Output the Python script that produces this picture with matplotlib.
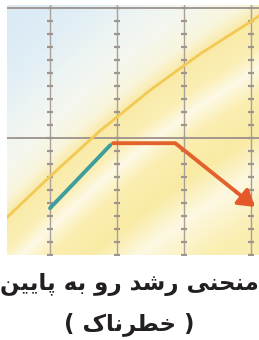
import numpy as np
import matplotlib.pyplot as plt
from matplotlib.colors import to_rgb

# curva de referencia (amarilla), línea de crecimiento previo (verde azulado) y caída (naranja)
ref_x = [0.36, 1.0, 1.75, 2.5, 3.25, 4.01, 4.15]
ref_y = [-6.1, -2.96, 0.57, 3.7, 6.5, 9.0, 9.5]
prev_x = [1.0, 1.9]
prev_y = [-5.4, -0.55]
baja_x = [1.94, 2.87, 4.06]
baja_y = [-0.4, -0.4, -5.3]
columnas = [1, 2, 3, 4]
filas = [0, 10]
marcas = list(range(-9, 11))

# texto en persa ya en formas de presentación y en orden visual (matplotlib no une letras árabes)
titulo1 = "\ufee6\ufef4\ufef3\ufe8e\ufb58 \ufeea\ufe91 \ufeed\ufead \ufeaa\ufeb7\ufead \ufef0\ufee8\ufea4\ufee8\ufee3"
titulo2 = "( \ufb8e\ufe8e\ufee7\ufeae\ufec4\ufea7 )"

x0, x1, y0, y1 = 0.358, 4.12, -9.0, 10.23

fig = plt.figure(figsize=(2.59, 3.40), dpi=100)
ax = fig.add_axes([7 / 259, 85 / 340, 252 / 259, 250 / 340])

# fondo: franjas diagonales paralelas a la curva
gx, gy = np.meshgrid(np.linspace(x0, x1, 300), np.linspace(y1, y0, 300))
d = gy - np.interp(gx, ref_x, ref_y)
paradas = [-16, -12, -9, -6, -4, -2.5, 0, 1.5, 4, 7, 10, 14]
tonos = ["#faeeb0", "#fdf8e2", "#f9eba4", "#fbeeb0", "#fdf9e6", "#fbefb6",
         "#f9eaa6", "#f9f5dc", "#f5f7ef", "#edf4f3", "#e2eff5", "#dbebf5"]
rgb = np.array([to_rgb(c) for c in tonos])
img = np.stack([np.interp(d, paradas, rgb[:, k]) for k in range(3)], axis=-1)
ax.imshow(img, extent=(x0, x1, y0, y1), aspect="auto", zorder=0)

for y in filas:
    ax.axhline(y, color="#9c918c", lw=1.3, zorder=2)
for x in columnas:
    ax.axvline(x, color="#aaa09a", lw=1.0, zorder=2)
    ax.plot([x] * len(marcas), marcas, ls="none", marker="_", ms=4.5, mew=1.6,
            color="#9e958f", zorder=2)

ax.plot(ref_x, ref_y, color="#f3c955", lw=2.0, zorder=3)
ax.plot(prev_x, prev_y, color="#3f9e9b", lw=2.8, solid_capstyle="round", zorder=4)

# tramo final: línea hasta el comienzo de la punta y punta de flecha aparte
t = 0.76
bx = baja_x[1] + t * (baja_x[2] - baja_x[1])
by = baja_y[1] + t * (baja_y[2] - baja_y[1])
ax.plot(baja_x[:2] + [bx], baja_y[:2] + [by], color="#e2622c", lw=2.8,
        solid_joinstyle="round", solid_capstyle="round", zorder=4)
ax.annotate("", xy=(baja_x[2], baja_y[2]), xytext=(bx, by),
            arrowprops=dict(arrowstyle="-|>,head_length=0.95,head_width=0.6",
                            color="#e4582a", lw=2.8, shrinkA=0, shrinkB=0), zorder=5)

ax.set_xlim(x0, x1)
ax.set_ylim(y0, y1)
ax.axis("off")

fig.text(0.5, 1 - 285 / 340, titulo1, ha="center", va="center", fontsize=16.5,
         fontweight="bold", family=["DejaVu Sans", "Noto Sans"], color="#231f20")
fig.text(0.5, 1 - 324 / 340, titulo2, ha="center", va="center", fontsize=16.5,
         fontweight="bold", family=["DejaVu Sans", "Noto Sans"], color="#231f20")

fig.savefig("out.png", dpi=100)
